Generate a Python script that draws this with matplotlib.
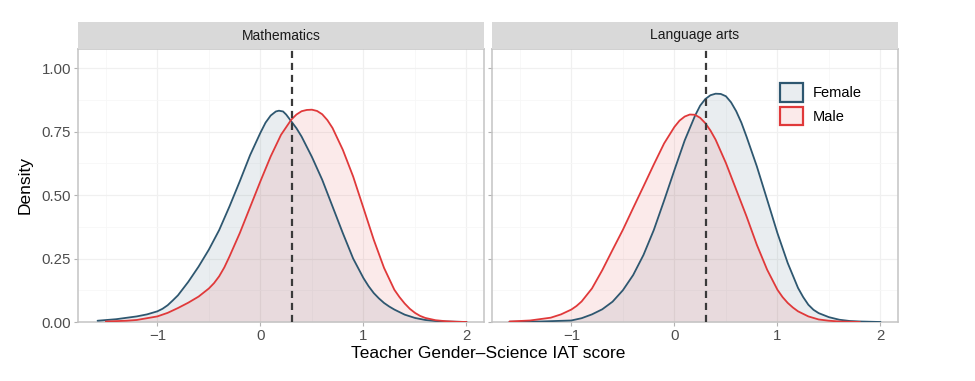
import matplotlib
matplotlib.use("Agg")
import matplotlib.pyplot as plt
from matplotlib.patches import Patch

plt.rcParams['font.family'] = ['Liberation Sans', 'DejaVu Sans']

# ---------------- data ----------------
panels = ["Mathematics", "Language arts"]
groups = ["Female", "Male"]
mean_line = 0.31

math_f_x = [-1.58, -1.4, -1.2, -1.1, -1.0, -0.95, -0.9, -0.85, -0.8, -0.7, -0.6, -0.5, -0.4, -0.3, -0.2, -0.1, 0.0,
            0.05, 0.1, 0.15, 0.18, 0.22, 0.25, 0.3, 0.35, 0.4, 0.5, 0.6, 0.7, 0.8, 0.9, 1.0, 1.05, 1.1, 1.15, 1.2,
            1.25, 1.3, 1.4, 1.5, 1.6, 1.7, 1.8, 1.9, 2.0]
math_f_y = [0.005, 0.011, 0.022, 0.03, 0.042, 0.052, 0.066, 0.085, 0.105, 0.158, 0.218, 0.285, 0.362, 0.455, 0.554, 0.657, 0.745,
            0.785, 0.813, 0.829, 0.832, 0.829, 0.817, 0.79, 0.763, 0.73, 0.65, 0.56, 0.455, 0.35, 0.25, 0.173, 0.141, 0.114, 0.093, 0.075,
            0.061, 0.049, 0.029, 0.016, 0.008, 0.004, 0.002, 0.001, 0.0]

math_m_x = [-1.5, -1.3, -1.2, -1.0, -0.9, -0.8, -0.7, -0.6, -0.5, -0.45, -0.4, -0.35, -0.3, -0.2, -0.1, 0.0, 0.1, 0.2,
            0.3, 0.35, 0.4, 0.45, 0.5, 0.55, 0.6, 0.65, 0.7, 0.8, 0.9, 1.0, 1.1, 1.2, 1.3, 1.35, 1.4, 1.45, 1.5, 1.55,
            1.6, 1.7, 1.8, 1.9, 2.0]
math_m_y = [0.002, 0.005, 0.008, 0.022, 0.036, 0.055, 0.076, 0.10, 0.132, 0.153, 0.18, 0.215, 0.258, 0.35, 0.452, 0.554, 0.652, 0.737,
            0.797, 0.817, 0.83, 0.835, 0.836, 0.831, 0.818, 0.795, 0.764, 0.678, 0.573, 0.449, 0.324, 0.213, 0.127, 0.098, 0.073, 0.052, 0.036, 0.024,
            0.016, 0.007, 0.003, 0.001, 0.0]

lang_f_x = [-1.6, -1.3, -1.0, -0.9, -0.8, -0.7, -0.6, -0.5, -0.4, -0.3, -0.2, -0.1, 0.0, 0.1, 0.2, 0.25, 0.3, 0.35, 0.4,
            0.45, 0.5, 0.55, 0.6, 0.65, 0.7, 0.8, 0.9, 1.0, 1.1, 1.2, 1.25, 1.3, 1.35, 1.4, 1.5, 1.6, 1.7, 1.8, 2.0]
lang_f_y = [0.001, 0.002, 0.006, 0.015, 0.03, 0.05, 0.08, 0.125, 0.185, 0.264, 0.362, 0.478, 0.598, 0.715, 0.812, 0.852, 0.878, 0.893, 0.899,
            0.898, 0.889, 0.865, 0.83, 0.785, 0.73, 0.613, 0.482, 0.35, 0.232, 0.134, 0.098, 0.068, 0.048, 0.035, 0.019, 0.009, 0.004, 0.002, 0.0]

lang_m_x = [-1.6, -1.4, -1.2, -1.1, -1.0, -0.95, -0.9, -0.8, -0.7, -0.6, -0.5, -0.4, -0.3, -0.2, -0.1, 0.0, 0.05, 0.1,
            0.15, 0.2, 0.25, 0.3, 0.35, 0.4, 0.5, 0.6, 0.7, 0.8, 0.9, 1.0, 1.05, 1.1, 1.15, 1.2, 1.3, 1.4, 1.5, 1.6, 1.8]
lang_m_y = [0.002, 0.006, 0.017, 0.03, 0.049, 0.063, 0.081, 0.132, 0.204, 0.284, 0.363, 0.449, 0.534, 0.62, 0.703, 0.768, 0.793, 0.809,
            0.817, 0.816, 0.804, 0.783, 0.754, 0.718, 0.626, 0.521, 0.416, 0.304, 0.206, 0.127, 0.098, 0.075, 0.057, 0.042, 0.022, 0.01, 0.005, 0.002, 0.0]

series = {
    "Mathematics": {"Female": (math_f_x, math_f_y), "Male": (math_m_x, math_m_y)},
    "Language arts": {"Female": (lang_f_x, lang_f_y), "Male": (lang_m_x, lang_m_y)},
}

x_ticks = [-1, 0, 1, 2]
x_tick_labels = ["\u22121", "0", "1", "2"]
y_ticks = [0.0, 0.25, 0.5, 0.75, 1.0]
y_tick_labels = ["0.00", "0.25", "0.50", "0.75", "1.00"]

# ---------------- style ----------------
line_colors = {"Female": "#2e5770", "Male": "#e0393a"}
fill_colors = {"Female": "#2e5770", "Male": "#e0393a"}
fill_alpha = 0.1
border_col = "#c4c4c4"
grid_col = "#f0f0f0"
tick_text_col = "#4d4d4d"

W, H = 975, 381
fig = plt.figure(figsize=(W / 100, H / 100), dpi=100)

panel_left_px = [78, 492]
panel_w_px = 406
panel_top_px, panel_bot_px = 49, 322
strip_top_px = 22

for i, name in enumerate(panels):
    l = panel_left_px[i] / W
    b = (H - panel_bot_px) / H
    w = panel_w_px / W
    h = (panel_bot_px - panel_top_px) / H
    ax = fig.add_axes([l, b, w, h])
    ax.set_xlim(-1.77, 2.17)
    ax.set_ylim(0, 1.075)
    ax.set_xticks(x_ticks)
    ax.set_xticklabels(x_tick_labels)
    ax.set_xticks([-1.5, -0.5, 0.5, 1.5], minor=True)
    ax.set_yticks(y_ticks)
    ax.set_yticks([0.125, 0.375, 0.625, 0.875], minor=True)
    if i == 0:
        ax.set_yticklabels(y_tick_labels)
    else:
        ax.set_yticklabels([])
    ax.grid(True, which="major", color=grid_col, linewidth=0.9, zorder=0)
    ax.grid(True, which="minor", color="#f7f7f7", linewidth=0.6, zorder=0)
    ax.set_axisbelow(True)
    ax.tick_params(which="major", length=3, color="#b3b3b3", labelcolor=tick_text_col, labelsize=10.8, pad=2)
    ax.tick_params(which="minor", length=0)
    for sp in ax.spines.values():
        sp.set_color(border_col)
        sp.set_linewidth(1.1)

    for g in groups:
        xs, ys = series[name][g]
        ax.fill_between(xs, ys, 0, color=fill_colors[g], alpha=fill_alpha, linewidth=0, zorder=2)
    for g in groups:
        xs, ys = series[name][g]
        ax.plot(xs, ys, color=line_colors[g], linewidth=1.3, zorder=3,
                solid_joinstyle="round", solid_capstyle="round")

    ax.axvline(mean_line, color="#3a3a3a", linestyle=(0, (3.2, 2.2)), linewidth=1.6, zorder=4)

    # strip
    sax = fig.add_axes([l, (H - panel_top_px) / H, w, (panel_top_px - strip_top_px) / H])
    sax.set_facecolor("#d9d9d9")
    sax.set_xticks([])
    sax.set_yticks([])
    for sp in sax.spines.values():
        sp.set_visible(False)
    sax.text(0.5, 0.5, name, ha="center", va="center", fontsize=10, color="#1a1a1a")

    if i == 0:
        ax.set_ylabel("Density", fontsize=12.5, labelpad=6)
    if i == 1:
        handles = [Patch(facecolor=(*matplotlib.colors.to_rgb(fill_colors[g]), fill_alpha),
                         edgecolor=line_colors[g], linewidth=1.6, label=g) for g in groups]
        ax.legend(handles=handles, loc="upper left", bbox_to_anchor=(0.695, 0.895),
                  frameon=False, fontsize=10.5, handlelength=1.55, handleheight=1.55,
                  handletextpad=0.7, labelspacing=0.35, borderaxespad=0)

fig.text((78 + 898) / 2 / W, 1 - 353 / H, "Teacher Gender\u2013Science IAT score",
         ha="center", va="center", fontsize=12.5)

fig.savefig("out.png", dpi=100)
